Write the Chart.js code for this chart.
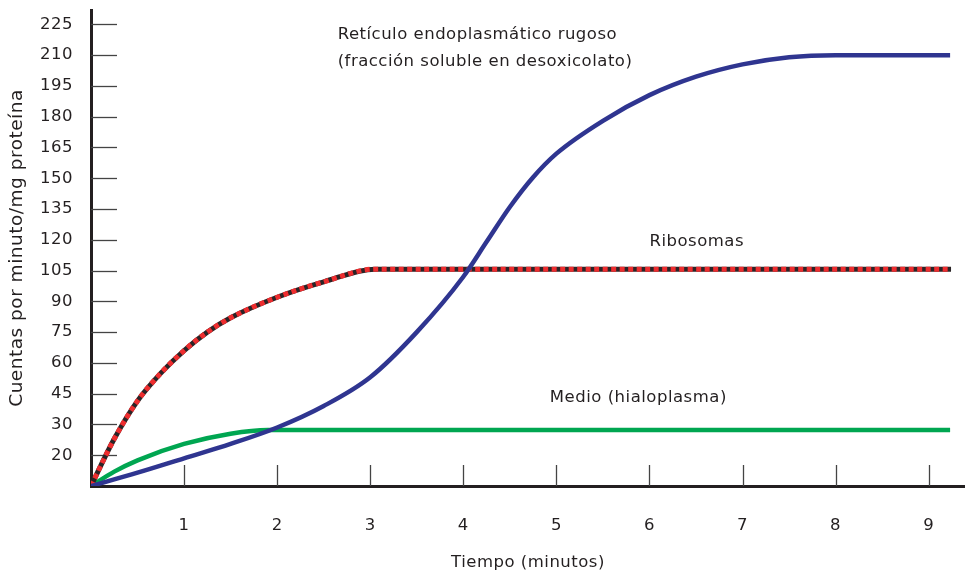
<!DOCTYPE html>
<html>
<head>
<meta charset="utf-8">
<script src="https://cdn.jsdelivr.net/npm/chart.js@4/dist/chart.umd.min.js"></script>
<style>
  html, body { margin: 0; padding: 0; background: #fff; }
  #wrap { width: 965px; height: 570px; }
</style>
</head>
<body>
<div id="wrap"><canvas id="chart" width="965" height="570"></canvas></div>
<script>
// data
const rerTime = [0, 0.5, 1, 1.5, 2, 2.5, 3, 3.5, 4, 4.25, 4.5, 4.75, 5, 5.5, 6, 6.5, 7, 7.5, 8, 9.23];
const rerCounts = [0, 6.5, 13.5, 20.5, 28.5, 39, 53, 75, 102, 119, 136, 150.5, 162, 178, 190.5, 199.5, 205.5, 209, 210, 210];

const riboTime = [0, 0.25, 0.5, 0.75, 1, 1.25, 1.5, 2, 2.5, 3.05, 9.24];
const riboCounts = [0, 23, 41.5, 55, 66, 75, 82, 92, 99.5, 105.7, 105.7];

const medioTime = [0, 0.25, 0.5, 1, 1.5, 1.9, 9.23];
const medioCounts = [0, 7, 12.5, 20.5, 25.5, 27.3, 27.3];

const xTicks = [1, 2, 3, 4, 5, 6, 7, 8, 9];
const yTicks = [15, 30, 45, 60, 75, 90, 105, 120, 135, 150, 165, 180, 195, 210, 225];
const yTickLabels = ['20', '30', '45', '60', '75', '90', '105', '120', '135', '150', '165', '180', '195', '210', '225'];

const notes = [
  { text: 'Retículo endoplasmático rugoso', x: 2.65, y: 220 },
  { text: '(fracción soluble en desoxicolato)', x: 2.65, y: 207 },
  { text: 'Ribosomas', x: 6.0, y: 119 },
  { text: 'Medio (hialoplasma)', x: 4.93, y: 43 },
];

const toPoints = (xs, ys) => xs.map((x, i) => ({ x, y: ys[i] }));

const ink = '#231f20';
const family = "'DejaVu Sans', sans-serif";
const font = { family, size: 16.5 };

// tick marks point into the plot, plus the notes
const innerTicks = {
  id: 'innerTicks',
  beforeDraw(chart) {
    chart.ctx.letterSpacing = '0.5px';
  },
  beforeDatasetsDraw(chart) {
    const { ctx, scales: { x, y } } = chart;
    ctx.save();
    ctx.strokeStyle = '#444';
    ctx.lineWidth = 1.3;
    yTicks.forEach((v) => {
      const py = Math.round(y.getPixelForValue(v)) + 0.5;
      ctx.beginPath();
      ctx.moveTo(x.left, py);
      ctx.lineTo(x.left + 26, py);
      ctx.stroke();
    });
    xTicks.forEach((v) => {
      const px = Math.round(x.getPixelForValue(v)) + 0.5;
      ctx.beginPath();
      ctx.moveTo(px, y.bottom);
      ctx.lineTo(px, y.bottom - 21);
      ctx.stroke();
    });
    ctx.restore();
  },
  afterDraw(chart) {
    const { ctx, scales: { x, y } } = chart;
    ctx.save();
    ctx.fillStyle = ink;
    ctx.font = `${font.size}px ${family}`;
    ctx.letterSpacing = '0.5px';
    ctx.textBaseline = 'middle';
    ctx.textAlign = 'left';
    notes.forEach((n) => {
      ctx.fillText(n.text, x.getPixelForValue(n.x), y.getPixelForValue(n.y));
    });
    ctx.restore();
  },
};

const line = {
  fill: false,
  pointRadius: 0,
  cubicInterpolationMode: 'monotone',
  borderCapStyle: 'butt',
};

new Chart(document.getElementById('chart'), {
  type: 'line',
  data: {
    datasets: [
      { ...line, label: 'Medio', data: toPoints(medioTime, medioCounts), borderColor: '#00a651', borderWidth: 4.5, order: 3 },
      { ...line, label: 'RER', data: toPoints(rerTime, rerCounts), borderColor: '#2f3590', borderWidth: 4.5, order: 0 },
      { ...line, label: 'Ribosomas base', data: toPoints(riboTime, riboCounts), borderColor: '#2a2426', borderWidth: 5, order: 2 },
      { ...line, label: 'Ribosomas', data: toPoints(riboTime, riboCounts), borderColor: '#ee2d2f', borderWidth: 5, borderDash: [5, 3.5], order: 1 },
    ],
  },
  options: {
    responsive: false,
    animation: false,
    layout: { padding: { top: 10, right: 0, left: 0, bottom: 0 } },
    plugins: { legend: { display: false }, tooltip: { enabled: false } },
    scales: {
      x: {
        type: 'linear',
        min: 0,
        max: 9.39,
        grid: { display: false, drawTicks: false },
        border: { display: true, color: ink, width: 3 },
        afterBuildTicks: (s) => { s.ticks = xTicks.map((v) => ({ value: v })); },
        afterFit: (s) => { s.height = 84; s.paddingLeft = 0; s.paddingRight = 0; },
        ticks: { color: ink, font, padding: 30, maxRotation: 0 },
        title: { display: true, text: 'Tiempo (minutos)', color: ink, font, padding: { top: 11, bottom: -3 } },
      },
      y: {
        type: 'linear',
        min: 0,
        max: 232,
        grid: { display: false, drawTicks: false },
        border: { display: true, color: ink, width: 3 },
        afterBuildTicks: (s) => { s.ticks = yTicks.map((v) => ({ value: v })); },
        afterFit: (s) => { s.width = 91; s.paddingTop = 0; s.paddingBottom = 0; },
        ticks: {
          color: ink,
          font,
          padding: 18,
          callback: (v) => yTickLabels[yTicks.indexOf(v)],
        },
        title: { display: true, text: 'Cuentas por minuto/mg proteína', color: ink, font: { family, size: 18.5 }, padding: { top: 6, bottom: 4 } },
      },
    },
  },
  plugins: [innerTicks],
});
</script>
</body>
</html>
